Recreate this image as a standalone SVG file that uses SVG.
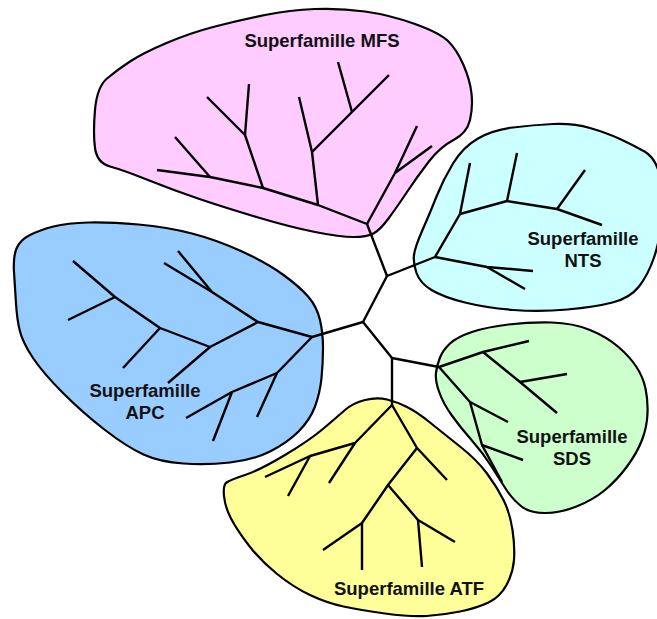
<svg xmlns="http://www.w3.org/2000/svg" width="657" height="619" viewBox="0 0 657 619">
<style>
.blob{stroke:#000;stroke-width:2.2;stroke-linejoin:round}
.tree{fill:none;stroke:#000;stroke-width:2.4;stroke-linecap:butt;stroke-linejoin:round}
.lbl{font-family:"Liberation Sans",Arial,sans-serif;font-weight:bold;font-size:18.5px;fill:#111;text-anchor:middle}
</style>
<rect width="657" height="619" fill="#fff"/>
<g id="node-mfs">
<path class="blob" fill="#FFCCFF" d="M95,110 Q97,87 107,78.5 Q117,70 130,61.5 Q143,53 166.5,43 Q190,33 215,26.5 Q240,20 265,15 Q290,10 315,9 Q340,8 365,11.5 Q390,15 415,24 Q440,33 448.5,41.5 Q457,50 463.5,65 Q470,80 471.5,93.5 Q473,107 470,120 Q467,133 453.5,140 Q440,147 428.5,162 Q417,177 407,192 Q397,207 388.5,218.5 Q380,230 373.5,233.5 Q367,237 353.5,237 Q340,237 315,232 Q290,227 256.5,217 Q223,207 198,198.5 Q173,190 148,180 Q123,170 110,166.5 Q97,163 95,148 Q93,133 95,110 Z"/>
<g class="tree">
<polyline points="367,224 318,205 263,188 210,177 157,170"/>
<polyline points="210,177 175,137"/>
<polyline points="263,188 245,135 207,97"/>
<polyline points="245,135 249,84"/>
<polyline points="318,205 312,152 299,97"/>
<polyline points="312,152 352,112 389,75"/>
<polyline points="352,112 338,62"/>
<polyline points="367,224 395,173 417,126"/>
<polyline points="395,173 432,146"/>
</g>
<text class="lbl" x="322" y="47">Superfamille MFS</text>
</g>
<g id="node-nts">
<path class="blob" fill="#CCFFFF" d="M416.5,273 Q413,263 414,255 Q415,247 422.5,230 Q430,213 436.5,196.5 Q443,180 453,163.5 Q463,147 478,138.5 Q493,130 513,127.5 Q533,125 553,124 Q573,123 590,128 Q607,133 620,139 Q633,145 644.5,151.5 Q656,158 660,176.5 Q664,195 662,217.5 Q660,240 654,257.5 Q648,275 639,286.5 Q630,298 612.5,302.5 Q595,307 567.5,309.5 Q540,312 513.5,310 Q487,308 465,302.5 Q443,297 431.5,290 Q420,283 416.5,273 Z"/>
<g class="tree">
<polyline points="435,257 460,214 470,163"/>
<polyline points="460,214 507,201 517,153"/>
<polyline points="507,201 557,209 602,225"/>
<polyline points="557,209 585,170"/>
<polyline points="435,257 487,267 533,271"/>
<polyline points="487,267 525,289"/>
</g>
<text class="lbl" x="583" y="245">Superfamille</text>
<text class="lbl" x="583" y="267">NTS</text>
</g>
<g id="node-apc">
<path class="blob" fill="#99CCFF" d="M14,272 Q13,257 16.5,248.5 Q20,240 30,235 Q40,230 53.5,226.5 Q67,223 88.5,222.5 Q110,222 138.5,224.5 Q167,227 192,233.5 Q217,240 242,251.5 Q267,263 283.5,275 Q300,287 308.5,297 Q317,307 320,320 Q323,333 323,348 Q323,363 321.5,378 Q320,393 315,406.5 Q310,420 298.5,431.5 Q287,443 270,451.5 Q253,460 230,462.5 Q207,465 183.5,463.5 Q160,462 143.5,454.5 Q127,447 105,430 Q83,413 63,393 Q43,373 33,358 Q23,343 20,331.5 Q17,320 16,303.5 Q15,287 14,272 Z"/>
<g class="tree">
<polyline points="312,337 258,322 212,292 164,263"/>
<polyline points="178,251 212,292"/>
<polyline points="258,322 210,347 160,328 115,297 73,261"/>
<polyline points="115,297 68,320"/>
<polyline points="160,328 123,368"/>
<polyline points="210,347 168,383"/>
<polyline points="312,337 277,373 232,392 186,418"/>
<polyline points="277,373 257,417"/>
<polyline points="232,392 213,441"/>
</g>
<text class="lbl" x="145" y="396.5">Superfamille</text>
<text class="lbl" x="145" y="419">APC</text>
</g>
<g id="node-sds">
<path class="blob" fill="#CCFFCC" d="M436,372.5 Q437,365 440,357.5 Q443,350 450,343.5 Q457,337 472,332 Q487,327 508.5,324.5 Q530,322 551.5,322.5 Q573,323 590,330 Q607,337 618.5,347 Q630,357 636.5,367 Q643,377 645.5,388.5 Q648,400 647.5,413.5 Q647,427 642,440 Q637,453 627,466.5 Q617,480 605,490 Q593,500 576.5,506.5 Q560,513 545,513 Q530,513 521.5,506.5 Q513,500 506.5,490 Q500,480 491.5,466.5 Q483,453 471.5,440 Q460,427 451.5,415 Q443,403 439,391.5 Q435,380 436,372.5 Z"/>
<g class="tree">
<polyline points="439,367 483,352 529,341"/>
<polyline points="483,352 520,382 557,413"/>
<polyline points="520,382 567,374"/>
<polyline points="439,367 470,402 508,422"/>
<polyline points="470,402 482,445 502,482"/>
<polyline points="482,445 523,460"/>
</g>
<text class="lbl" x="572" y="442.5">Superfamille</text>
<text class="lbl" x="572" y="465">SDS</text>
</g>
<g id="node-atf">
<path class="blob" fill="#FFFF99" d="M224,496 Q223,485 226.5,482.5 Q230,480 245,475 Q260,470 285,455 Q310,440 323.5,428.5 Q337,417 345,410 Q353,403 365,400 Q377,397 387,399.5 Q397,402 407,407 Q417,412 430,422.5 Q443,433 460,446.5 Q477,460 487,473.5 Q497,487 503.5,500 Q510,513 512.5,530 Q515,547 514,560 Q513,573 506.5,585 Q500,597 488.5,602.5 Q477,608 460,611.5 Q443,615 426.5,616 Q410,617 385,613.5 Q360,610 343.5,606.5 Q327,603 310,595 Q293,587 276.5,573.5 Q260,560 248.5,545 Q237,530 231,518.5 Q225,507 224,496 Z"/>
<g class="tree">
<polyline points="392,405 355,443 310,456 265,477"/>
<polyline points="355,443 329,483"/>
<polyline points="310,456 288,496"/>
<polyline points="392,405 417,448 447,480"/>
<polyline points="417,448 388,485 362,523 323,550"/>
<polyline points="362,523 362,570"/>
<polyline points="388,485 418,520 455,542"/>
<polyline points="418,520 422,567"/>
</g>
<text class="lbl" x="409" y="595">Superfamille ATF</text>
</g>
<g id="connectors" class="tree">
<polyline points="367,224 387,276 435,257"/>
<polyline points="387,276 363,322 312,337"/>
<polyline points="363,322 392,358 439,367"/>
<polyline points="392,358 392,405"/>
</g>
</svg>
